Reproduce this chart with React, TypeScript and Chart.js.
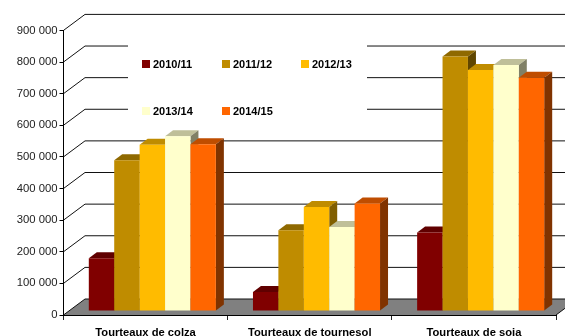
import React, { useEffect, useRef } from "react";
import { Chart, registerables } from "chart.js";

Chart.register(...registerables);

const categories = ["Tourteaux de colza", "Tourteaux de tournesol", "Tourteaux de soja"];
const seasons = ["2010/11", "2011/12", "2012/13", "2013/14", "2014/15"];
const s201011 = [167000, 60000, 248000];
const s201112 = [477000, 255000, 805000];
const s201213 = [526000, 329000, 762000];
const s201314 = [553000, 266000, 778000];
const s201415 = [527000, 340000, 738000];
const seriesValues = [s201011, s201112, s201213, s201314, s201415];
const seriesColors = ["#800000", "#BF8C00", "#FFBB00", "#FFFFCC", "#FF6600"];
const yTicks = [0, 100000, 200000, 300000, 400000, 500000, 600000, 700000, 800000, 900000];

const shade = (hex: string, f: number) => {
  const n = parseInt(hex.slice(1), 16);
  const c = [(n >> 16) & 255, (n >> 8) & 255, n & 255].map((v) => Math.round(v * f));
  return `rgb(${c[0]},${c[1]},${c[2]})`;
};

const WALL_DX = 21.5;
const WALL_DY = -16;
const BAR_DX = 6.75;
const BAR_DY = -4;
const DEPTH_X = 8;
const DEPTH_Y = -6;

const wallPlugin = {
  id: "wall",
  beforeDraw(chart: any) {
    const { ctx, chartArea, scales } = chart;
    const y = scales.y;
    const { left, right, bottom } = chartArea;
    ctx.save();
    // floor
    ctx.fillStyle = "#808080";
    ctx.beginPath();
    ctx.moveTo(left, bottom);
    ctx.lineTo(left + WALL_DX, bottom + WALL_DY);
    ctx.lineTo(right + WALL_DX, bottom + WALL_DY);
    ctx.lineTo(right, bottom);
    ctx.closePath();
    ctx.fill();
    // grid on wall and diagonals
    ctx.strokeStyle = "#111";
    ctx.lineWidth = 1;
    yTicks.forEach((v) => {
      const py = y.getPixelForValue(v);
      ctx.beginPath();
      ctx.moveTo(left, py);
      ctx.lineTo(left + WALL_DX, py + WALL_DY);
      ctx.lineTo(right + WALL_DX, py + WALL_DY);
      ctx.stroke();
    });
    ctx.beginPath();
    ctx.moveTo(right, bottom);
    ctx.lineTo(right + WALL_DX, bottom + WALL_DY);
    ctx.stroke();
    // legend panel hides the grid behind it
    ctx.fillStyle = "#fff";
    ctx.fillRect(128, 25, 239, 105);
    ctx.restore();
  },
};

const legendPlugin = {
  id: "sideLegend",
  afterDraw(chart: any) {
    const { ctx } = chart;
    const xs = [142, 222, 301];
    const ys = [60, 107];
    ctx.save();
    ctx.font = "bold 11px 'Liberation Sans'";
    ctx.textBaseline = "middle";
    ctx.textAlign = "left";
    chart.data.datasets.forEach((ds: any, i: number) => {
      const x = xs[i % 3];
      const yy = ys[Math.floor(i / 3)];
      ctx.fillStyle = ds.backgroundColor;
      ctx.fillRect(x, yy, 8, 8);
      ctx.fillStyle = "#000";
      ctx.fillText(ds.label, x + 11, yy + 4.5);
    });
    ctx.restore();
  },
};

// Painter's order for the 3D look: the first series is drawn first, so each
// next bar covers the side face of the one on its left.
const bar3dPlugin = {
  id: "bar3d",
  beforeDatasetDraw() {
    return false;
  },
  afterDatasetsDraw(chart: any) {
    const { ctx } = chart;
    chart.data.datasets.forEach((ds: any, i: number) => {
      const meta = chart.getDatasetMeta(i);
      ctx.save();
      ctx.translate(BAR_DX, BAR_DY);
      meta.data.forEach((el: any) => {
        const p = el.getProps(["x", "y", "base", "width"], true);
        const l = p.x - p.width / 2;
        const r = p.x + p.width / 2;
        ctx.fillStyle = shade(ds.backgroundColor, 0.75);
        ctx.beginPath();
        ctx.moveTo(l, p.y);
        ctx.lineTo(l + DEPTH_X, p.y + DEPTH_Y);
        ctx.lineTo(r + DEPTH_X, p.y + DEPTH_Y);
        ctx.lineTo(r, p.y);
        ctx.closePath();
        ctx.fill();
        ctx.fillStyle = shade(ds.backgroundColor, 0.5);
        ctx.beginPath();
        ctx.moveTo(r, p.y);
        ctx.lineTo(r + DEPTH_X, p.y + DEPTH_Y);
        ctx.lineTo(r + DEPTH_X, p.base + DEPTH_Y);
        ctx.lineTo(r, p.base);
        ctx.closePath();
        ctx.fill();
      });
      meta.controller.draw();
      ctx.restore();
    });
  },
};

export default function App() {
  const ref = useRef<HTMLCanvasElement>(null);
  useEffect(() => {
    const chart = new Chart(ref.current as HTMLCanvasElement, {
      type: "bar",
      data: {
        labels: categories,
        datasets: seasons.map((label, i) => ({
          label,
          data: seriesValues[i],
          backgroundColor: seriesColors[i],
          borderWidth: 0,
          clip: false,
          categoryPercentage: 0.774,
          barPercentage: 1,
        })),
      } as any,
      options: {
        responsive: false,
        animation: false,
        layout: { padding: { top: 30.4, right: 9, left: 0, bottom: 0 } },
        plugins: { legend: { display: false }, title: { display: false }, tooltip: { enabled: false } },
        scales: {
          x: {
            afterFit: (s: any) => {
              s.height = 21;
            },
            border: { color: "#000", width: 1 },
            grid: { drawOnChartArea: false, color: "#222", tickLength: 5, offset: true },
            ticks: {
              color: "#000",
              padding: 6,
              maxRotation: 0,
              font: { family: "'Liberation Sans'", size: 11.2, weight: "bold" },
            },
          },
          y: {
            min: 0,
            max: 900000,
            afterFit: (s: any) => {
              s.width = 63.5;
            },
            border: { color: "#000", width: 1 },
            grid: { drawOnChartArea: false, color: "#000", tickLength: 4 },
            ticks: {
              stepSize: 100000,
              color: "#222",
              padding: 2,
              font: { family: "'Liberation Sans'", size: 11.3 },
              callback: (v: any) => String(v).replace(/\B(?=(\d{3})+$)/g, " "),
            },
          },
        },
      } as any,
      plugins: [wallPlugin, bar3dPlugin, legendPlugin],
    });
    return () => chart.destroy();
  }, []);
  return (
    <div style={{ position: "absolute", left: 0, top: 0, width: 565, height: 336, background: "#fff" }}>
      <canvas ref={ref} width={565} height={336} style={{ display: "block" }} />
    </div>
  );
}
